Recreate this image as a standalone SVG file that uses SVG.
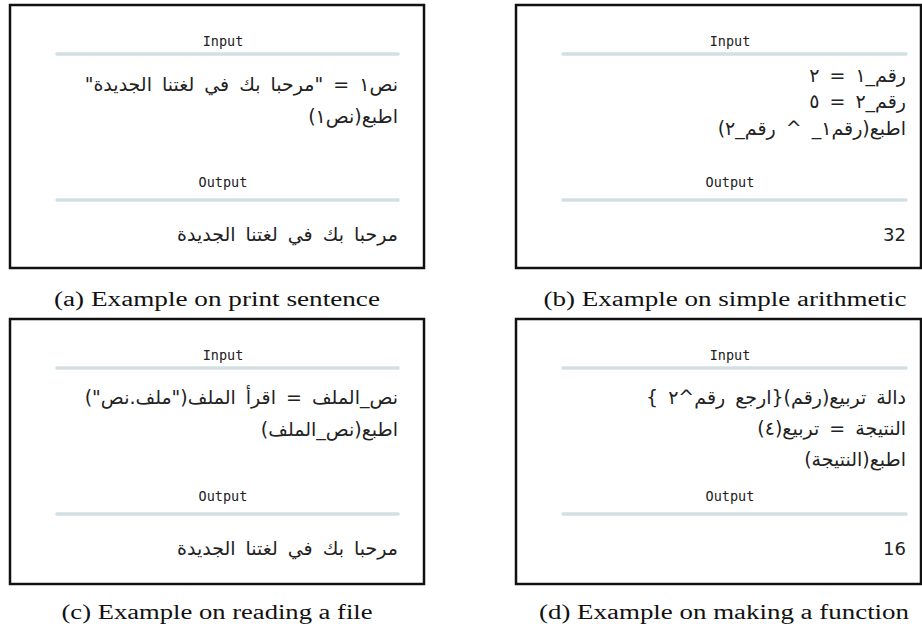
<svg xmlns="http://www.w3.org/2000/svg" width="922" height="630" viewBox="0 0 922 630">
<style>
.box{fill:#fff;stroke:#111;stroke-width:2.5}
.sep{stroke:#d3dfe2;stroke-width:3.5;stroke-linecap:round}
.lbl{font-family:"DejaVu Sans Mono",monospace;font-size:13.5px;fill:#222;text-anchor:middle}
.ar{font-family:"DejaVu Sans","Noto Sans",sans-serif;font-size:19px;word-spacing:4px;fill:#222;direction:rtl;text-anchor:start}
.num{font-family:"DejaVu Sans",sans-serif;font-size:18px;fill:#222;text-anchor:end}
.cap{font-family:"Liberation Serif",serif;font-size:20px;fill:#111;text-anchor:middle}
</style>
<rect width="922" height="630" fill="#fff"/>
<g id="panel-a">
<rect class="box" x="10" y="5" width="414" height="263"/>
<text class="lbl" x="223" y="46">Input</text>
<line class="sep" x1="57" y1="54" x2="398" y2="54"/>
<text class="ar" x="398" y="91">نص١ = "مرحبا بك في لغتنا الجديدة"</text>
<text class="ar" x="398" y="123">اطبع(نص١)</text>
<text class="lbl" x="223" y="187">Output</text>
<line class="sep" x1="57" y1="200" x2="398" y2="200"/>
<text class="ar" x="398" y="241">مرحبا بك في لغتنا الجديدة</text>
</g>
<g id="panel-b">
<rect class="box" x="516" y="5" width="405" height="263"/>
<text class="lbl" x="730" y="46">Input</text>
<line class="sep" x1="563" y1="54" x2="906" y2="54"/>
<text class="ar" x="906" y="82">رقم_١ = ٢</text>
<text class="ar" x="906" y="108">رقم_٢ = ٥</text>
<text class="ar" x="906" y="135">اطبع(رقم١_ ^ رقم_٢)</text>
<text class="lbl" x="730" y="187">Output</text>
<line class="sep" x1="563" y1="200" x2="906" y2="200"/>
<text class="num" x="906" y="241">32</text>
</g>
<g id="panel-c">
<rect class="box" x="10" y="319" width="414" height="265"/>
<text class="lbl" x="223" y="360">Input</text>
<line class="sep" x1="57" y1="368" x2="398" y2="368"/>
<text class="ar" x="398" y="404">نص_الملف = اقرأ الملف("ملف.نص")</text>
<text class="ar" x="398" y="436">اطبع(نص_الملف)</text>
<text class="lbl" x="223" y="501">Output</text>
<line class="sep" x1="57" y1="514" x2="398" y2="514"/>
<text class="ar" x="398" y="555">مرحبا بك في لغتنا الجديدة</text>
</g>
<g id="panel-d">
<rect class="box" x="516" y="319" width="405" height="265"/>
<text class="lbl" x="730" y="360">Input</text>
<line class="sep" x1="563" y1="368" x2="906" y2="368"/>
<text class="ar" x="906" y="404">دالة تربيع(رقم){ارجع رقم^٢ }</text>
<text class="ar" x="906" y="435">النتيجة = تربيع(٤)</text>
<text class="ar" x="906" y="466">اطبع(النتيجة)</text>
<text class="lbl" x="730" y="501">Output</text>
<line class="sep" x1="563" y1="514" x2="906" y2="514"/>
<text class="num" x="906" y="555">16</text>
</g>
<g id="captions">
<text class="cap" x="217" y="306" textLength="326" lengthAdjust="spacingAndGlyphs">(a) Example on print sentence</text>
<text class="cap" x="725" y="306" textLength="363" lengthAdjust="spacingAndGlyphs">(b) Example on simple arithmetic</text>
<text class="cap" x="217" y="619" textLength="311" lengthAdjust="spacingAndGlyphs">(c) Example on reading a file</text>
<text class="cap" x="724" y="619" textLength="370" lengthAdjust="spacingAndGlyphs">(d) Example on making a function</text>
</g>
</svg>
